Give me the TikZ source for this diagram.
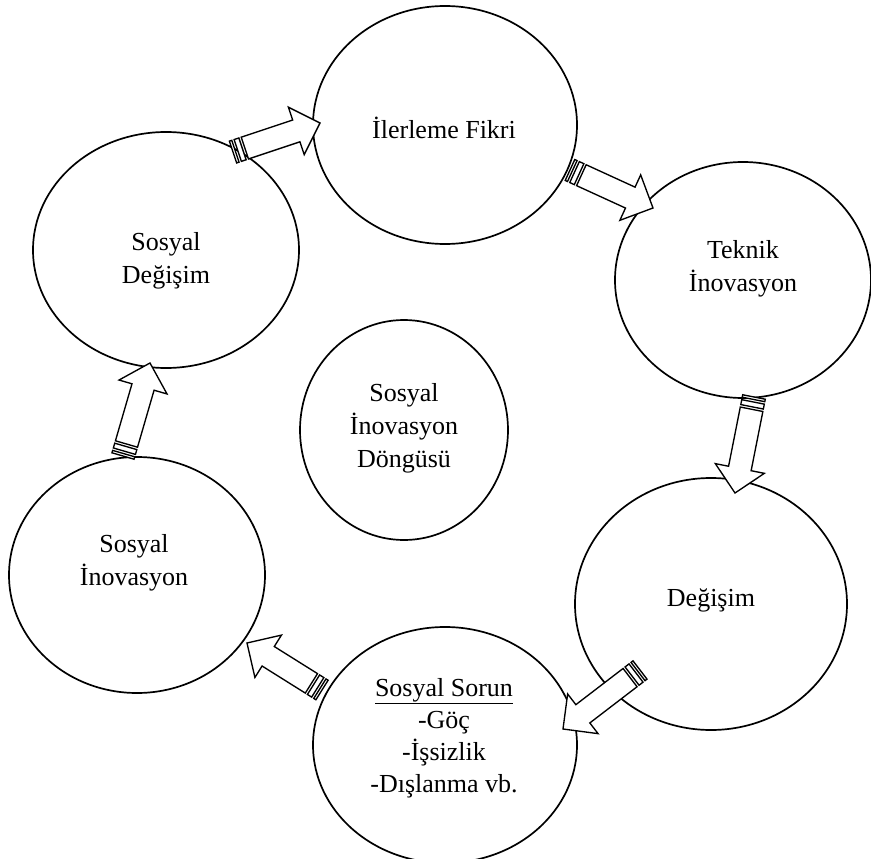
\documentclass[tikz,border=0pt]{standalone}
\usepackage{fontspec}
\setmainfont{Liberation Serif}
\usetikzlibrary{calc,shapes.geometric}

\tikzset{
  bubble/.style={ellipse, draw, line width=1.7pt, fill=white, inner sep=0pt},
  caption/.style={align=center, font=\fontsize{26}{33}\selectfont, inner sep=0pt},
  blockarrow/.style={draw, fill=white, line width=1.35pt, line join=miter},
}

% Striped block arrow from tail #1 to tip #2
% (two thin bars at the tail, shaft half-width 11.5, head half-width 25, head length 25)
\newcommand\stripedarrow[2]{%
  \draw[blockarrow]
       ($(#1)!12.5pt!(#2)!11.5pt!90:(#2)$)
    -- ($(#2)!25pt!(#1)!11.5pt!270:(#1)$)
    -- ($(#2)!25pt!(#1)!25pt!270:(#1)$)
    -- (#2)
    -- ($(#2)!25pt!(#1)!25pt!90:(#1)$)
    -- ($(#2)!25pt!(#1)!11.5pt!90:(#1)$)
    -- ($(#1)!12.5pt!(#2)!11.5pt!270:(#2)$)
    -- cycle;
  \draw[blockarrow]
       ($(#1)!11.5pt!90:(#2)$)
    -- ($(#1)!2.5pt!(#2)!11.5pt!90:(#2)$)
    -- ($(#1)!2.5pt!(#2)!11.5pt!270:(#2)$)
    -- ($(#1)!11.5pt!270:(#2)$)
    -- cycle;
  \draw[blockarrow]
       ($(#1)!5pt!(#2)!11.5pt!90:(#2)$)
    -- ($(#1)!10pt!(#2)!11.5pt!90:(#2)$)
    -- ($(#1)!10pt!(#2)!11.5pt!270:(#2)$)
    -- ($(#1)!5pt!(#2)!11.5pt!270:(#2)$)
    -- cycle;
}

\begin{document}
\begin{tikzpicture}[x=1pt,y=-1pt]
\useasboundingbox (0,0) rectangle (871,859);
\fill[white] (0,0) rectangle (871,859);
\clip (0,0) rectangle (871,859);

% the seven ovals
\node[bubble, minimum width=264pt, minimum height=238pt] (ilerleme) at (445,125) {};
\node[bubble, minimum width=256pt, minimum height=236pt] (teknik)   at (743,280) {};
\node[bubble, minimum width=266pt, minimum height=236pt] (sdegisim) at (166,250) {};
\node[bubble, minimum width=208pt, minimum height=220pt] (dongu)    at (404,430) {};
\node[bubble, minimum width=272pt, minimum height=252pt] (degisim)  at (711,604) {};
\node[bubble, minimum width=256pt, minimum height=236pt] (sinov)    at (137,575) {};
\node[bubble, minimum width=264pt, minimum height=236pt] (sorun)    at (445,745) {};

% texts
\node[caption] (t-ilerleme) at (444,128) {İlerleme Fikri};
\node[caption] (t-teknik)   at (743,269) {Teknik\\İnovasyon};
\node[caption] (t-sdegisim) at (166,261) {Sosyal\\Değişim};
\node[caption] (t-dongu)    at (404,428) {Sosyal\\İnovasyon\\Döngüsü};
\node[caption] (t-degisim)  at (711,600) {Değişim};
\node[caption] (t-sinov)    at (134,563) {Sosyal\\İnovasyon};
\node[caption, font=\fontsize{26}{32}\selectfont] (t-sorun) at (444,738)
  {\underline{Sosyal Sorun}\\-Göç\\-İşsizlik\\-Dışlanma vb.};

% arrow ends
\coordinate (a1s) at (233,152); \coordinate (a1e) at (320,123);
\coordinate (a2s) at (570,170); \coordinate (a2e) at (653,208);
\coordinate (a3s) at (754,397); \coordinate (a3e) at (735,493);
\coordinate (a4s) at (640,670); \coordinate (a4e) at (563,729);
\coordinate (a5s) at (322,690); \coordinate (a5e) at (247,643);
\coordinate (a6s) at (123,456); \coordinate (a6e) at (150,363);

% the cycle of arrows
\stripedarrow{a1s}{a1e}
\stripedarrow{a2s}{a2e}
\stripedarrow{a3s}{a3e}
\stripedarrow{a4s}{a4e}
\stripedarrow{a5s}{a5e}
\stripedarrow{a6s}{a6e}
\end{tikzpicture}
\end{document}
